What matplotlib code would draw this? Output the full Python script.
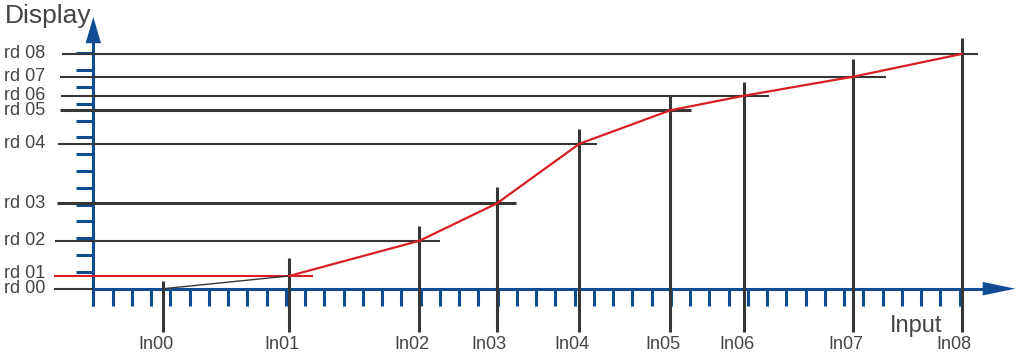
import matplotlib
matplotlib.use("Agg")
import matplotlib.pyplot as plt

plt.rcParams['font.family'] = ['Liberation Sans', 'DejaVu Sans']

# everything is measured in axis tick units (x tick = 1, y tick = 1)
in_labels = ['In00', 'In01', 'In02', 'In03', 'In04', 'In05', 'In06', 'In07', 'In08']
in_x = [3.64, 10.18, 16.94, 20.97, 25.25, 29.97, 33.82, 39.48, 45.11]
in_top = [0.46, 1.83, 3.73, 6.07, 9.50, 11.46, 12.30, 13.66, 14.90]

rd_labels = ['rd 00', 'rd 01', 'rd 02', 'rd 03', 'rd 04', 'rd 05', 'rd 06', 'rd 07', 'rd 08']
rd_y = [0.0, 0.76, 2.85, 5.08, 8.62, 10.61, 11.48, 12.61, 13.96]
rd_left = [-2.04, -2.04, -1.99, -1.89, -1.83, -1.73, -1.68, -1.73, -1.63]
rd_right = [0.0, 11.41, 18.00, 21.94, 26.15, 31.03, 35.10, 41.16, 45.96]

n_xticks = 45
n_yticks = 14

blue = '#0f4c92'
dark = '#363636'
red = '#d91f26'
txt = '#444444'

fig = plt.figure(figsize=(10.17, 3.6), dpi=100)
ax = fig.add_axes([0, 0, 1, 1])
ax.set_xlim(-4.847, 47.98)
ax.set_ylim(-4.24, 17.17)
ax.axis('off')

# blue axes with ticks and arrows
ax.plot([0, 46.3], [0, 0], color=blue, lw=2.2, zorder=1, solid_capstyle='butt')
ax.plot([0, 0], [-1.0, 14.7], color=blue, lw=2.2, zorder=1, solid_capstyle='butt')
for k in range(n_xticks + 1):
    ax.plot([k, k], [0, -1.0], color=blue, lw=2.2, zorder=1, solid_capstyle='butt')
for k in range(1, n_yticks + 1):
    ax.plot([-0.9, 0], [k, k], color=blue, lw=2.2, zorder=1, solid_capstyle='butt')
ax.arrow(46.2, 0, 1.7, 0, width=0, head_width=0.8, head_length=1.7,
         length_includes_head=True, color=blue, lw=0, zorder=1)
ax.arrow(0, 14.6, 0, 1.56, width=0, head_width=0.8, head_length=1.56,
         length_includes_head=True, color=blue, lw=0, zorder=1)

# horizontal display level lines
for i, y in enumerate(rd_y):
    lw = 2.2 if i in (3, 5) else 1.5
    col = red if i == 1 else dark
    ax.plot([rd_left[i], rd_right[i]], [y, y], color=col, lw=lw, zorder=2,
            solid_capstyle='butt')
    ly = y + 0.15 if i == 1 else y
    ax.text(-4.64, ly, rd_labels[i], ha='left', va='center', fontsize=13, color=txt)

# vertical input lines
for i, x in enumerate(in_x):
    ax.plot([x, x], [-2.57, in_top[i]], color=dark, lw=2.2, zorder=2,
            solid_capstyle='butt')
    ax.text(x - 0.4, -2.82, in_labels[i], ha='center', va='top', fontsize=13, color=txt)

# transfer curve
ax.plot(in_x[:2], rd_y[:2], color=dark, lw=1.0, zorder=3)
ax.plot(in_x[1:], rd_y[1:], color=red, lw=1.6, zorder=3)

ax.text(-4.6, 16.95, 'Display', ha='left', va='top', fontsize=19, color=txt)
ax.text(42.73, -2.58, 'Input', ha='center', va='baseline', fontsize=17, color=txt)

fig.savefig('out.png', dpi=100)
